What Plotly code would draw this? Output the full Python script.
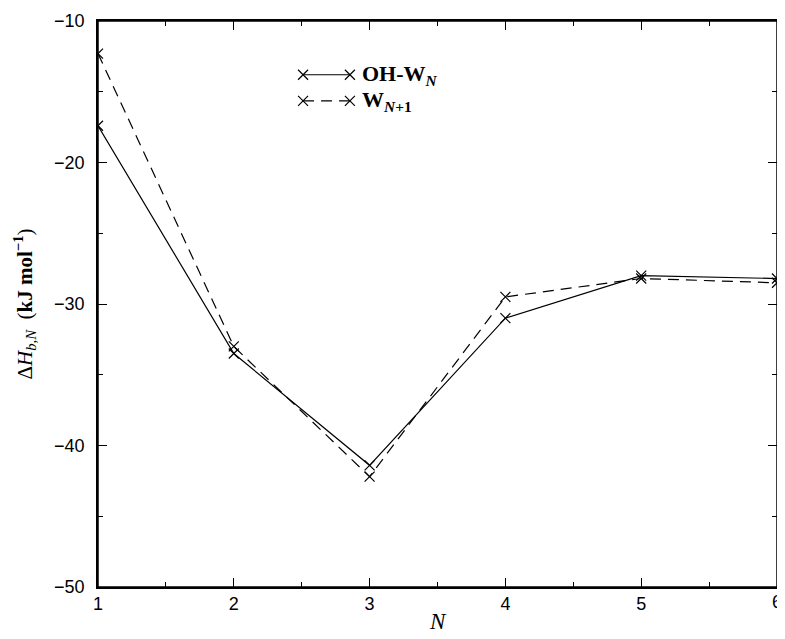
import plotly.graph_objects as go

N = [1, 2, 3, 4, 5, 6]
oh_wn = [-17.4, -33.5, -41.4, -31.0, -28.0, -28.2]
w_n1 = [-12.3, -33.0, -42.2, -29.5, -28.2, -28.5]
x_ticks = [1, 2, 3, 4, 5, 6]
y_ticks = [-50, -40, -30, -20, -10]
series_names = ["<b>OH-W</b><b><sub><i>N</i></sub></b>", "<b>W</b><b><sub><i>N</i>+1</sub></b>"]
x_title = "<i>N</i>"
y_title = "Δ<i>H</i><sub><i>b,N</i></sub>  (<b>kJ mol</b><sup><b>−1</b></sup>)"

line_w = 1.2
mk = dict(symbol="x-thin", size=10, color="black", line=dict(color="black", width=line_w))
dashes = ["solid", "11px,7px"]

fig = go.Figure()
fig.add_trace(go.Scatter(x=N, y=oh_wn, mode="lines+markers", name=series_names[0],
                         line=dict(color="black", width=line_w, dash=dashes[0]), marker=mk,
                         showlegend=False))
fig.add_trace(go.Scatter(x=N, y=w_n1, mode="lines+markers", name=series_names[1],
                         line=dict(color="black", width=line_w, dash=dashes[1]), marker=mk,
                         showlegend=False))

# legend samples drawn on an overlay axis in fractional coordinates
leg_x = [0.302, 0.371]
leg_y = [0.905, 0.859]
for i in range(2):
    fig.add_trace(go.Scatter(x=leg_x, y=[leg_y[i], leg_y[i]], mode="lines+markers",
                             xaxis="x2", yaxis="y2", showlegend=False, hoverinfo="skip",
                             line=dict(color="black", width=line_w, dash=dashes[i]), marker=mk))
    fig.add_annotation(x=0.386, y=leg_y[i], xref="x2", yref="y2", text=series_names[i],
                       showarrow=False, xanchor="left", yanchor="middle",
                       font=dict(family="Liberation Serif, Times New Roman", size=22, color="black"))

axis_common = dict(
    showline=True, linecolor="black", linewidth=1.5, mirror="ticks",
    ticks="inside", ticklen=9, tickwidth=1.2, tickcolor="black",
    showgrid=False, zeroline=False,
    tickfont=dict(family="Liberation Sans, Arial", size=18, color="black"),
)

fig.update_xaxes(
    range=[1, 6], tickvals=x_ticks,
    minor=dict(ticks="inside", ticklen=5, tickwidth=1.2, tickcolor="black", dtick=0.5),
    **axis_common,
)
fig.update_yaxes(
    range=[-50, -10], tickvals=y_ticks,
    minor=dict(ticks="inside", ticklen=5, tickwidth=1.2, tickcolor="black", dtick=5),
    ticklabelstandoff=8,
    title=dict(text=y_title,
               font=dict(family="Liberation Serif, Times New Roman", size=21, color="black"), standoff=16),
    **axis_common,
)

# x-axis title as an annotation so it does not shrink the plotting area
fig.add_annotation(x=0.5, y=0, xref="paper", yref="paper", text=x_title,
                   showarrow=False, xanchor="center", yanchor="middle", yshift=-34,
                   font=dict(family="Liberation Serif, Times New Roman", size=23, color="black"))

# the last x tick label sits at the right edge of the figure
fig.add_annotation(x=x_ticks[-1], y=0, xref="x", yref="paper", text=str(x_ticks[-1]),
                   showarrow=False, xanchor="center", yanchor="top", yshift=-3,
                   font=dict(family="Liberation Sans, Arial", size=18, color="black"))

fig.add_shape(type="rect", xref="paper", yref="paper", x0=0, y0=0, x1=1, y1=1,
              line=dict(color="black", width=1.5), fillcolor="rgba(0,0,0,0)", layer="above")

fig.update_layout(
    width=769, height=623,
    margin=dict(l=90, r=0, t=13, b=44, autoexpand=False),
    plot_bgcolor="white", paper_bgcolor="white",
    showlegend=False,
    xaxis2=dict(overlaying="x", range=[0, 1], visible=False, fixedrange=True),
    yaxis2=dict(overlaying="y", range=[0, 1], visible=False, fixedrange=True),
)

fig.write_html("out.html")
